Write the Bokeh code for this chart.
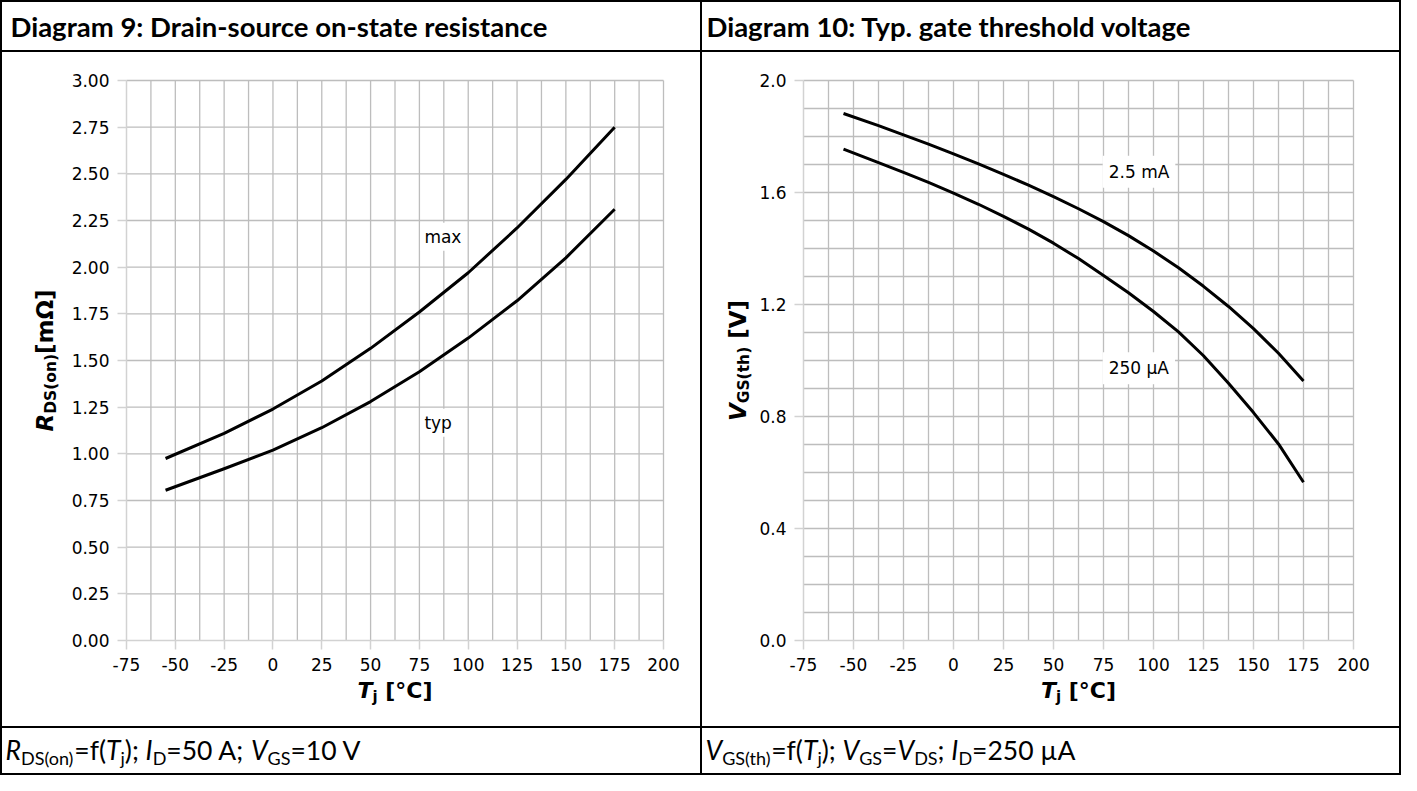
import glob
import os
import struct

import numpy as np
from bokeh.embed import file_html
from bokeh.layouts import column, row
from bokeh.models import FixedTicker, Label, Range1d, Spacer
from bokeh.plotting import figure
from bokeh.resources import INLINE

# ------------------------------------------------------------------ data
# Diagram 9: R_DS(on) = f(Tj)
rds_T = [-55, -25, 0, 25, 50, 75, 100, 125, 150, 175]
rds_max = [0.975, 1.11, 1.24, 1.39, 1.565, 1.76, 1.97, 2.21, 2.47, 2.75]
rds_typ = [0.805, 0.92, 1.02, 1.14, 1.28, 1.44, 1.62, 1.82, 2.05, 2.31]

# Diagram 10: V_GS(th) = f(Tj)
vth_T = [-55, -37.5, -25, -12.5, 0, 12.5, 25, 37.5, 50, 62.5, 75, 87.5,
         100, 112.5, 125, 137.5, 150, 162.5, 175]
vth_2500 = [1.882, 1.839, 1.806, 1.773, 1.738, 1.702, 1.665, 1.626, 1.585, 1.542, 1.496, 1.446,
            1.391, 1.331, 1.265, 1.193, 1.114, 1.026, 0.927]
vth_250 = [1.755, 1.707, 1.672, 1.636, 1.598, 1.558, 1.515, 1.469, 1.419, 1.364, 1.304, 1.242,
           1.175, 1.102, 1.017, 0.919, 0.814, 0.702, 0.565]

# axes
x_ticks = [-75, -50, -25, 0, 25, 50, 75, 100, 125, 150, 175, 200]
x_tick_labels = ["-75", "-50", "-25", "0", "25", "50", "75", "100", "125", "150", "175", "200"]
x_minor = [-62.5, -37.5, -12.5, 12.5, 37.5, 62.5, 87.5, 112.5, 137.5, 162.5, 187.5]
rds_ticks = [0.0, 0.25, 0.5, 0.75, 1.0, 1.25, 1.5, 1.75, 2.0, 2.25, 2.5, 2.75, 3.0]
rds_tick_labels = ["0.00", "0.25", "0.50", "0.75", "1.00", "1.25", "1.50", "1.75",
                   "2.00", "2.25", "2.50", "2.75", "3.00"]
vth_ticks = [0.0, 0.4, 0.8, 1.2, 1.6, 2.0]
vth_tick_labels = ["0.0", "0.4", "0.8", "1.2", "1.6", "2.0"]
vth_minor = [0.1, 0.2, 0.3, 0.5, 0.6, 0.7, 0.9, 1.0, 1.1, 1.3, 1.4, 1.5, 1.7, 1.8, 1.9]

title_left = "Diagram 9: Drain-source on-state resistance"
title_right = "Diagram 10: Typ. gate threshold voltage"

# ------------------------------------------------------------------ font metrics
def _u16(b, o):
    return struct.unpack_from(">H", b, o)[0]


def _u32(b, o):
    return struct.unpack_from(">I", b, o)[0]


class TTFMetrics:
    def __init__(self, path):
        b = open(path, "rb").read()
        n = _u16(b, 4)
        t = {}
        for i in range(n):
            tag = b[12 + 16 * i:16 + 16 * i].decode("latin1")
            t[tag] = _u32(b, 12 + 16 * i + 8)
        self.upem = _u16(b, t["head"] + 18)
        nh = _u16(b, t["hhea"] + 34)
        hm = t["hmtx"]
        self.adv = [_u16(b, hm + 4 * i) for i in range(nh)]
        cm = t["cmap"]
        self.b = b
        self.sub = None
        for i in range(_u16(b, cm + 2)):
            pid = _u16(b, cm + 4 + 8 * i)
            eid = _u16(b, cm + 6 + 8 * i)
            off = _u32(b, cm + 8 + 8 * i)
            if _u16(b, cm + off) == 4 and ((pid == 3 and eid in (0, 1)) or pid == 0):
                self.sub = cm + off
                break
        if self.sub is None:
            raise ValueError("no cmap")

    def glyph(self, c):
        b, s = self.b, self.sub
        seg2 = _u16(b, s + 6)
        n = seg2 // 2
        ends = s + 14
        starts = ends + seg2 + 2
        deltas = starts + seg2
        ros = deltas + seg2
        for i in range(n):
            if c <= _u16(b, ends + 2 * i):
                st = _u16(b, starts + 2 * i)
                if c < st:
                    return 0
                d = _u16(b, deltas + 2 * i)
                ro = _u16(b, ros + 2 * i)
                if ro == 0:
                    return (c + d) & 0xFFFF
                g = _u16(b, ros + 2 * i + ro + 2 * (c - st))
                return (g + d) & 0xFFFF if g else 0
        return 0

    def width(self, text, size):
        tot = 0
        for ch in text:
            g = self.glyph(ord(ch))
            tot += self.adv[min(g, len(self.adv) - 1)]
        return tot / self.upem * size


FONT_FILES = {
    ("DejaVu Sans", "normal"): "DejaVuSans.ttf",
    ("DejaVu Sans", "bold"): "DejaVuSans-Bold.ttf",
    ("DejaVu Sans", "bold italic"): "DejaVuSans-BoldOblique.ttf",
    ("Lato", "normal"): "Lato-Regular.ttf",
    ("Lato", "italic"): "Lato-Italic.ttf",
    ("Lato", "bold"): "Lato-Bold.ttf",
}
_cache = {}


def metrics(font, style):
    key = (font, style)
    if key not in _cache:
        m = None
        fname = FONT_FILES.get(key)
        if fname:
            for root in ("/usr/share/fonts", "/usr/local/share/fonts",
                         os.path.expanduser("~/.fonts"), os.path.expanduser("~/.local/share/fonts")):
                hits = glob.glob(os.path.join(root, "**", fname), recursive=True)
                if hits:
                    try:
                        m = TTFMetrics(hits[0])
                    except Exception:
                        m = None
                    break
        _cache[key] = m
    return _cache[key]


def text_width(text, font, style, size):
    m = metrics(font, style)
    if m is None:
        em = 0.68 if font.startswith("DejaVu") else 0.52
        return len(text) * em * size
    return m.width(text, size)


MID = 0.37  # distance (in em) of the text's middle line above its baseline


def place_run(p, pieces, x_px, y_px, to_data, angle=0.0, align="left"):
    """pieces: (text, font, style, size, shift_down_px); (x_px, y_px) is the baseline start."""
    widths = [text_width(t, f, s, z) for (t, f, s, z, _) in pieces]
    total = sum(widths)
    start = x_px if angle == 0 else y_px
    if align == "center":
        start -= total / 2.0
    cum = 0.0
    for (t, f, s, z, sh), w in zip(pieces, widths):
        lead = len(t) - len(t.lstrip(" "))
        off = text_width(t[:lead], f, s, z) if lead else 0.0
        txt = t.strip(" ")
        if angle == 0:
            px, py = start + cum + off, y_px - sh + MID * z
        else:
            px, py = x_px + sh - MID * z, start + cum + off
        dx, dy = to_data(px, py)
        p.add_layout(Label(x=dx, y=dy, text=txt, text_font=f, text_font_style=s,
                           text_font_size=f"{z}px", text_color="black",
                           text_align="left", text_baseline="middle", angle=angle))
        cum += w


# ------------------------------------------------------------------ layout constants
W_LEFT, W_RIGHT = 698, 697
HEAD_H, FOOT_H, PLOT_H = 48, 45, 674
TOP, BOTTOM = 28, 86
FRAME_H = PLOT_H - TOP - BOTTOM
GRID = "#bdbdbd"
AXIS = "#d2d2d2"


def blank(width, height):
    p = figure(width=width, height=height, x_range=Range1d(0, width), y_range=Range1d(0, height),
               title=None, toolbar_location=None, output_backend="svg", min_border=0,
               x_axis_location=None, y_axis_location=None,
               background_fill_color="white", border_fill_color="white", outline_line_color=None)
    p.grid.visible = False
    return p


def make_plot(width, left, right, yt, ylab, ymt):
    x0, x1 = x_ticks[0], x_ticks[-1]
    y0, y1 = yt[0], yt[-1]
    fw = width - left - right
    sx = (x1 - x0) / fw
    sy = (y1 - y0) / FRAME_H
    p = figure(width=width, height=PLOT_H, title=None, min_border=0,
               x_range=Range1d(x0 - left * sx, x1 + right * sx),
               y_range=Range1d(y0 - BOTTOM * sy, y1 + TOP * sy),
               toolbar_location=None, output_backend="svg",
               background_fill_color="white", border_fill_color="white", outline_line_color=None)
    p.grid.visible = False
    # grid lines, bounded to the data area
    vx = [t for t in x_ticks + x_minor if t != x0]
    p.segment(x0=vx, y0=[y0] * len(vx), x1=vx, y1=[y1] * len(vx), line_color=GRID, line_width=1.3)
    hy = [t for t in list(yt) + list(ymt) if t != y0]
    p.segment(x0=[x0] * len(hy), y0=hy, x1=[x1] * len(hy), y1=hy, line_color=GRID, line_width=1.3)

    p.xaxis.ticker = FixedTicker(ticks=x_ticks)
    p.yaxis.ticker = FixedTicker(ticks=yt)
    p.xaxis.major_label_overrides = dict(zip(x_ticks, x_tick_labels))
    p.yaxis.major_label_overrides = dict(zip(yt, ylab))
    p.xaxis.fixed_location = y0
    p.yaxis.fixed_location = x0
    p.xaxis.bounds = (x0, x1)
    p.yaxis.bounds = (y0, y1)
    for ax in (p.xaxis, p.yaxis):
        ax.axis_line_color = AXIS
        ax.axis_line_width = 1.5
        ax.major_tick_line_color = AXIS
        ax.major_tick_line_width = 1.5
        ax.major_tick_out = 9
        ax.major_tick_in = 0
        ax.minor_tick_line_color = None
        ax.major_label_text_font = "DejaVu Sans"
        ax.major_label_text_font_size = "17px"
        ax.major_label_text_color = "black"
        ax.major_label_standoff = 8

    def to_data(px, py):
        return (x0 + px * sx, y0 + py * sy)

    return p, fw, to_data


B = "bold"
BI = "bold italic"
XL, XS = 22, 15     # x-axis label sizes (main, subscript)
YL, YS = 23, 15.5   # y-axis label sizes

# ------------------------------------------------------------------ left: diagram 9
p1, fw1, td1 = make_plot(W_LEFT, 124, 37, rds_ticks, rds_tick_labels, [])
p1.line(rds_T, rds_max, line_color="black", line_width=3, line_join="round")
p1.line(rds_T, rds_typ, line_color="black", line_width=3, line_join="round")
for txt, yv in (("max", 2.163), ("typ", 1.167)):
    p1.add_layout(Label(x=75.5, y=yv, text=txt, text_font="DejaVu Sans", text_font_size="17px",
                        text_align="left", text_baseline="middle", text_color="black",
                        background_fill_color="white", padding=4))
place_run(p1, [("T", "DejaVu Sans", BI, XL, 0), ("j", "DejaVu Sans", B, XS, 4),
               (" [°C]", "DejaVu Sans", B, XL, 0)],
          fw1 / 2.0, -58, td1, align="center")
place_run(p1, [("R", "DejaVu Sans", BI, YL, 0), ("DS(on)", "DejaVu Sans", B, YS, 3),
               ("[mΩ]", "DejaVu Sans", B, YL, 0)],
          -73, FRAME_H / 2.0, td1, angle=np.pi / 2, align="center")

# ------------------------------------------------------------------ right: diagram 10
p2, fw2, td2 = make_plot(W_RIGHT, 101, 46, vth_ticks, vth_tick_labels, vth_minor)
p2.line(vth_T, vth_2500, line_color="black", line_width=3, line_join="round")
p2.line(vth_T, vth_250, line_color="black", line_width=3, line_join="round")
for txt, yv in (("2.5 mA", 1.674), ("250 µA", 0.972)):
    p2.add_layout(Label(x=74.6, y=yv, text=txt, text_font="DejaVu Sans", text_font_size="17px",
                        text_align="left", text_baseline="middle", text_color="black",
                        background_fill_color="white", padding=6))
place_run(p2, [("T", "DejaVu Sans", BI, XL, 0), ("j", "DejaVu Sans", B, XS, 4),
               (" [°C]", "DejaVu Sans", B, XL, 0)],
          fw2 / 2.0, -58, td2, align="center")
place_run(p2, [("V", "DejaVu Sans", BI, YL, 0), ("GS(th)", "DejaVu Sans", B, YS, 3),
               (" [V]", "DejaVu Sans", B, YL, 0)],
          -57, FRAME_H / 2.0, td2, angle=np.pi / 2, align="center")

# ------------------------------------------------------------------ headers & footers
ident = lambda x, y: (x, y)
TITLE_SIZE = 27.5

h1 = blank(W_LEFT, HEAD_H)
h1.add_layout(Label(x=8, y=14 + MID * TITLE_SIZE, text=title_left, text_font="Lato",
                    text_font_style="bold", text_font_size=f"{TITLE_SIZE}px",
                    text_baseline="middle", text_color="black"))
h2 = blank(W_RIGHT, HEAD_H)
h2.add_layout(Label(x=4, y=14 + MID * TITLE_SIZE, text=title_right, text_font="Lato",
                    text_font_style="bold", text_font_size=f"{TITLE_SIZE}px",
                    text_baseline="middle", text_color="black"))

M, S, SH = 26.5, 18, 5
f1 = blank(W_LEFT, FOOT_H)
place_run(f1, [("R", "Lato", "italic", M, 0), ("DS(on)", "Lato", "normal", S, SH),
               ("=f(", "Lato", "normal", M, 0), ("T", "Lato", "italic", M, 0),
               ("j", "Lato", "normal", S, SH), ("); ", "Lato", "normal", M, 0),
               ("I", "Lato", "italic", M, 0), ("D", "Lato", "normal", S, SH),
               ("=50 A; ", "Lato", "normal", M, 0), ("V", "Lato", "italic", M, 0),
               ("GS", "Lato", "normal", S, SH), ("=10 V", "Lato", "normal", M, 0)],
          3, 14, ident)
f2 = blank(W_RIGHT, FOOT_H)
place_run(f2, [("V", "Lato", "italic", M, 0), ("GS(th)", "Lato", "normal", S, SH),
               ("=f(", "Lato", "normal", M, 0), ("T", "Lato", "italic", M, 0),
               ("j", "Lato", "normal", S, SH), ("); ", "Lato", "normal", M, 0),
               ("V", "Lato", "italic", M, 0), ("GS", "Lato", "normal", S, SH),
               ("=", "Lato", "normal", M, 0), ("V", "Lato", "italic", M, 0),
               ("DS", "Lato", "normal", S, SH), ("; ", "Lato", "normal", M, 0),
               ("I", "Lato", "italic", M, 0), ("D", "Lato", "normal", S, SH),
               ("=250 µA", "Lato", "normal", M, 0)],
          3, 14, ident)

# ------------------------------------------------------------------ assemble with black rules
def hs(w):
    return Spacer(width=w, height=2, styles={"background-color": "black"})


def vs(h):
    return Spacer(width=2, height=h, styles={"background-color": "black"})


COL_H = HEAD_H + 2 + PLOT_H + 2 + FOOT_H
left_col = column(h1, hs(W_LEFT), p1, hs(W_LEFT), f1)
right_col = column(h2, hs(W_RIGHT), p2, hs(W_RIGHT), f2)
TOTAL_W = 2 + W_LEFT + 2 + W_RIGHT + 2
page = column(hs(TOTAL_W), row(vs(COL_H), left_col, vs(COL_H), right_col, vs(COL_H)), hs(TOTAL_W))

open("out.html", "w").write(file_html(page, INLINE))
